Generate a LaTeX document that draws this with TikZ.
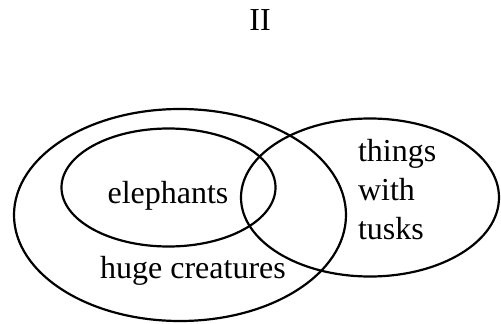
\documentclass[tikz,border=0pt]{standalone}
\usepackage{fontspec}
\setmainfont{Liberation Serif}
\usetikzlibrary{positioning}
\tikzset{
		set line/.style={
			draw=black,
			line width=2.2pt
		},
		set label/.style={
			inner sep=0pt,
			outer sep=0pt,
			font=\fontsize{32}{39}\selectfont
		}
	}
\begin{document}
\begin{tikzpicture}[x=1pt,y=-1pt]
		\useasboundingbox (0,0) rectangle (501,324);
		% title
		\node[set label] (title) at (260,20) {II};
		% sets:
		\draw[set line] (180,215) ellipse [x radius=166, y radius=106];
		\draw[set line] (168.5,187.5) ellipse [x radius=107, y radius=59];
		\draw[set line] (370,197.5) ellipse [x radius=129, y radius=79];
		% labels:
		\node[set label] (eleph) at (168,196) {elephants};
		\node[set label] (huge) at (193,271) {huge creatures};
		\node[set label, align=left, anchor=west] (tusks) at (358,190) {things\\with\\tusks};
	\end{tikzpicture}
\end{document}
